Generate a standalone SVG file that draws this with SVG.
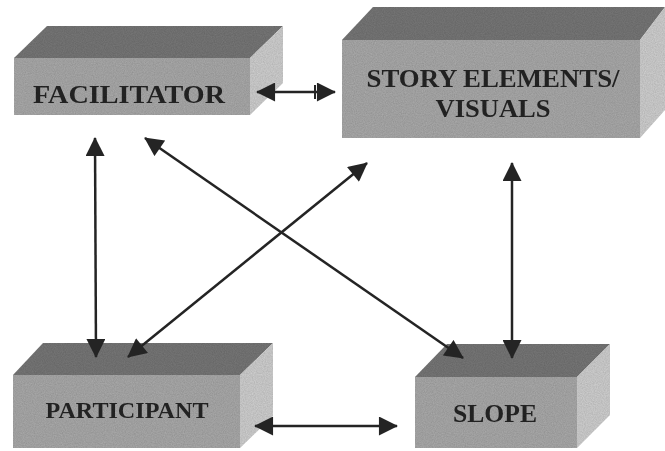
<svg xmlns="http://www.w3.org/2000/svg" width="665" height="451" viewBox="0 0 665 451">
  <style>
    .top { fill: #767676; }
    .front { fill: #a8a8a8; }
    .side { fill: #cdcdcd; }
    .label { font-family: "Liberation Serif", "Times New Roman", serif; font-weight: bold; fill: #262626; text-anchor: middle; }
    .link { stroke: #242424; stroke-width: 2.5; fill: none; marker-start: url(#head); marker-end: url(#head); }
  </style>
  <defs>
    <marker id="head" viewBox="0 0 10 10" refX="9.5" refY="5" markerWidth="8.2" markerHeight="7.6" markerUnits="strokeWidth" orient="auto-start-reverse">
      <path d="M0,0 L10,5 L0,10 Z" fill="#242424"/>
    </marker>
    <filter id="grain" x="0" y="0" width="1" height="1">
      <feTurbulence type="fractalNoise" baseFrequency="0.9" numOctaves="2" seed="3" result="n"/>
      <feColorMatrix in="n" type="matrix" values="0 0 0 0 0  0 0 0 0 0  0 0 0 0 0  0 0 0 0.35 -0.05" result="dots"/>
      <feComposite in="dots" in2="SourceGraphic" operator="in" result="clip"/>
      <feMerge><feMergeNode in="SourceGraphic"/><feMergeNode in="clip"/></feMerge>
    </filter>
  </defs>
  <rect width="665" height="451" fill="#ffffff"/>

  <g id="facilitator" filter="url(#grain)">
    <polygon class="top" points="14,58 47,26 283,26 250,58"/>
    <polygon class="side" points="250,58 283,26 283,83 250,115"/>
    <rect class="front" x="14" y="58" width="236" height="57"/>
    <text class="label" x="129" y="103" font-size="26" textLength="192" lengthAdjust="spacingAndGlyphs">FACILITATOR</text>
  </g>

  <g id="story-elements" filter="url(#grain)">
    <polygon class="top" points="342,40 373,7 665,7 640,40"/>
    <polygon class="side" points="640,40 665,7 665,110 640,138"/>
    <rect class="front" x="342" y="40" width="298" height="98"/>
    <text class="label" x="493" y="87" font-size="25" textLength="253" lengthAdjust="spacingAndGlyphs">STORY ELEMENTS/</text>
    <text class="label" x="493" y="117" font-size="25" textLength="115" lengthAdjust="spacingAndGlyphs">VISUALS</text>
  </g>

  <g id="participant" filter="url(#grain)">
    <polygon class="top" points="13,375 43,343 273,343 240,375"/>
    <polygon class="side" points="240,375 273,343 273,416 240,448"/>
    <rect class="front" x="13" y="375" width="227" height="73"/>
    <text class="label" x="127" y="418" font-size="23" textLength="163" lengthAdjust="spacingAndGlyphs">PARTICIPANT</text>
  </g>

  <g id="slope" filter="url(#grain)">
    <polygon class="top" points="415,377 447,344 610,344 577,377"/>
    <polygon class="side" points="577,377 610,344 610,415 577,448"/>
    <rect class="front" x="415" y="377" width="162" height="71"/>
    <text class="label" x="495" y="422" font-size="25" textLength="84" lengthAdjust="spacingAndGlyphs">SLOPE</text>
  </g>

  <g id="connectors">
    <line class="link" x1="257" y1="92" x2="335" y2="92"/>
    <line x1="315" y1="85" x2="315" y2="99" stroke="#242424" stroke-width="2"/>
    <line class="link" x1="95" y1="138" x2="96" y2="357"/>
    <line class="link" x1="145" y1="138" x2="463" y2="358"/>
    <line class="link" x1="367" y1="163" x2="128" y2="357"/>
    <line class="link" x1="512" y1="163" x2="512" y2="358"/>
    <line class="link" x1="255" y1="426" x2="397" y2="426"/>
  </g>
</svg>
